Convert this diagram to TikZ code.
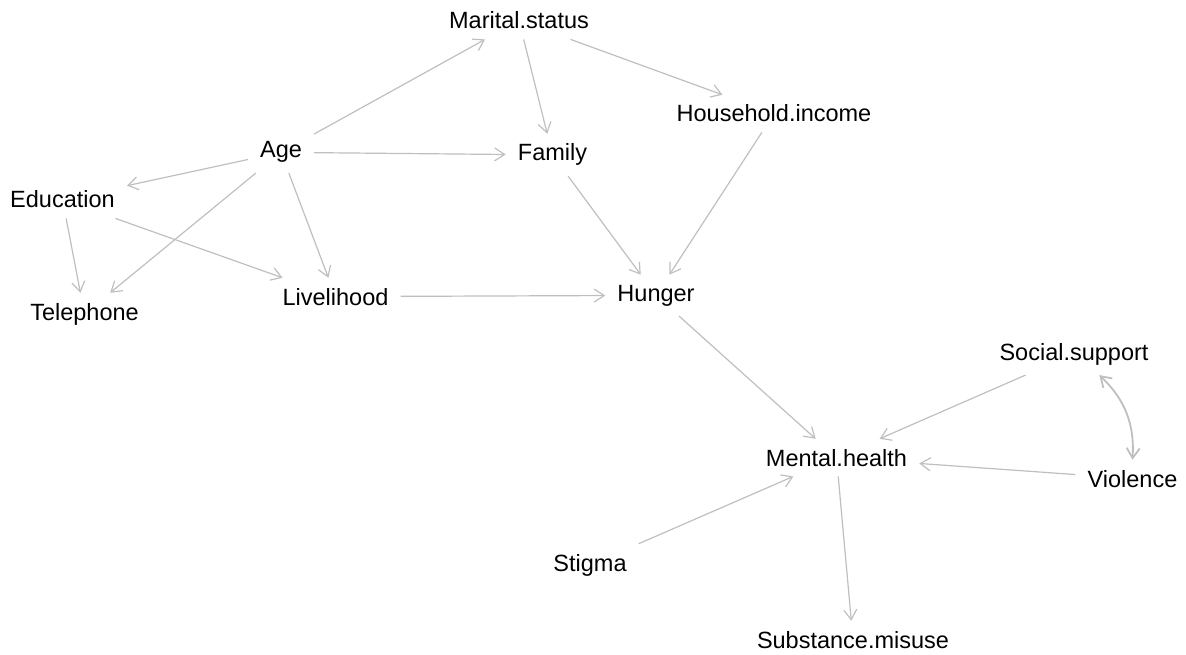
\documentclass[tikz,border=0pt]{standalone}
\usepackage{fontspec}
\setmainfont{Liberation Sans}
\usetikzlibrary{arrows.meta}

\begin{document}
\begin{tikzpicture}[x=1pt,y=-1pt]
\tikzset{vertex/.style = {anchor=base,inner xsep=12pt,inner ysep=10pt,font=\fontsize{23.5}{27}\selectfont}}
\tikzset{edge/.style = {draw=black!25,line width=1.2pt,-{Straight Barb[length=10pt,width=13pt]}}}
\tikzset{biedge/.style = {draw=black!25,line width=1.8pt,{Straight Barb[length=10pt,width=13pt]}-{Straight Barb[length=10pt,width=13pt]}}}
\useasboundingbox (0,0) rectangle (1186,655);
% vertices
\node[vertex] (mar) at (519, 29)    {Marital.status};
\node[vertex] (hh)  at (774, 122)   {Household.income};
\node[vertex] (age) at (281, 158)   {Age};
\node[vertex] (fam) at (552.5, 161) {Family};
\node[vertex] (edu) at (62.5, 208)  {Education};
\node[vertex] (tel) at (84.5, 320)  {Telephone};
\node[vertex] (liv) at (335.5, 305) {Livelihood};
\node[vertex] (hun) at (656, 301)   {Hunger};
\node[vertex] (soc) at (1074, 360)  {Social.support};
\node[vertex] (men) at (836.5, 466) {Mental.health};
\node[vertex] (vio) at (1132.5, 487){Violence};
\node[vertex] (sti) at (590, 571)   {Stigma};
\node[vertex] (sub) at (853, 648)   {Substance.misuse};
%edges
\draw[edge] (age) to (mar);
\draw[edge] (mar) to (fam);
\draw[edge] (mar) to (hh);
\draw[edge] (age) to (fam);
\draw[edge] (age) to (edu);
\draw[edge] (age) to (tel);
\draw[edge] (age) to (liv);
\draw[edge] (edu) to (tel);
\draw[edge] (edu) to (liv);
\draw[edge] (fam) to (hun);
\draw[edge] (hh) to (hun);
\draw[edge] (liv) to (hun);
\draw[edge] (hun) to (men);
\draw[edge] (soc) to (men);
\draw[edge] (vio) to (men);
\draw[edge] (sti) to (men);
\draw[edge] (men) to (sub);
\draw[biedge] (soc) to[bend left=25] (vio);
\end{tikzpicture}
\end{document}
